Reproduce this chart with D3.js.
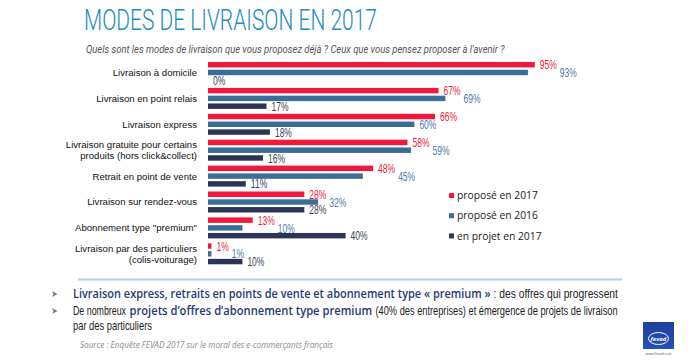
<!DOCTYPE html>
<html><head><meta charset="utf-8">
<script src="https://cdn.jsdelivr.net/npm/d3@7"></script>
<style>
html,body{margin:0;padding:0;background:#fff;}
svg{display:block;}
</style></head>
<body>
<svg id="c" width="696" height="363"></svg>
<script>
const categories = [
  ["Livraison à domicile"],
  ["Livraison en point relais"],
  ["Livraison express"],
  ["Livraison gratuite pour certains", "produits (hors click&collect)"],
  ["Retrait en point de vente"],
  ["Livraison sur rendez-vous"],
  ["Abonnement type \"premium\""],
  ["Livraison par des particuliers", "(colis-voiturage)"]
];
const seriesNames = ["proposé en 2017", "proposé en 2016", "en projet en 2017"];
const propose2017 = [95, 67, 66, 58, 48, 28, 13, 1];
const propose2016 = [93, 69, 60, 59, 45, 32, 10, 1];
const projet2017  = [0, 17, 18, 16, 11, 28, 40, 10];
const seriesValues = [propose2017, propose2016, projet2017];
const barColors = ["#F0193B", "#3B6D96", "#2B3456"];
const labelColors = ["#F0193B", "#4A7BA6", "#3A3F58"];

const svg = d3.select("#c");
const catIds = categories.map((d, i) => i);

const x = d3.scaleLinear().domain([0, 100]).range([208, 552]);
const y = d3.scaleBand().domain(catIds).range([62, 264.3]).paddingInner(0.19).paddingOuter(0);
const ys = d3.scaleBand().domain([0, 1, 2]).range([0, y.bandwidth()]).paddingInner(0.3);

function fitText(sel, px, py, w) {
  const nat = sel.node().getComputedTextLength();
  const sx = w / nat;
  sel.attr("x", 0).attr("y", 0).attr("transform", `translate(${px},${py}) scale(${sx},1)`);
  return sel;
}

// Title
fitText(svg.append("text")
  .attr("font-family", "Roboto, sans-serif").attr("font-weight", 300)
  .attr("font-size", 30).attr("fill", "#1E8CC2")
  .text("MODES DE LIVRAISON EN 2017"), 84, 29.5, 293);

fitText(svg.append("text")
  .attr("font-family", "Roboto, sans-serif").attr("font-style", "italic")
  .attr("font-size", 11.5).attr("fill", "#555")
  .text("Quels sont les modes de livraison que vous proposez déjà ? Ceux que vous pensez proposer à l'avenir ?"), 86, 53, 419);

// Category labels
const catG = svg.append("g");
categories.forEach((lines, i) => {
  const cy = y(i) + y.bandwidth() / 2;
  const t = catG.append("text").attr("text-anchor", "end")
    .attr("font-family", "'Liberation Sans', Arial, sans-serif")
    .attr("font-size", 9.6).attr("fill", "#111");
  const lh = 10.7;
  lines.forEach((ln, j) => {
    t.append("tspan").attr("x", 197)
      .attr("y", cy + (j - (lines.length - 1) / 2) * lh + 3.4)
      .text(ln);
  });
});

// Bars
seriesValues.forEach((vals, s) => {
  svg.append("g").selectAll("rect").data(vals).join("rect")
    .attr("x", x(0))
    .attr("y", (d, i) => y(i) + ys(s))
    .attr("width", d => x(d) - x(0))
    .attr("height", ys.bandwidth())
    .attr("fill", barColors[s]);
});

// Value labels (condensed; nudged right when they would collide with the label above)
const sq = 0.68;
const labG = svg.append("g");
catIds.forEach(i => {
  let prev = null;
  seriesValues.forEach((vals, s) => {
    const v = vals[i];
    const t = labG.append("text")
      .attr("font-family", "'Liberation Sans', Arial, sans-serif")
      .attr("font-size", 12.5).attr("fill", labelColors[s])
      .text(v + "%");
    const w = t.node().getComputedTextLength() * sq;
    let lx = x(v) + 5;
    if (prev && lx < prev.x + prev.w + 2 && lx + w > prev.x - 2) lx = prev.x + prev.w + 3;
    const ly = y(i) + ys(s) + ys.bandwidth() / 2 + 4.6;
    t.attr("transform", `translate(${lx},${ly}) scale(${sq},1)`);
    prev = {x: lx, w: w};
  });
});

// Legend
const lg = svg.append("g");
seriesNames.forEach((n, s) => {
  const cy = 195.5 + s * 20.2;
  lg.append("rect").attr("x", 449).attr("y", cy - 2.5).attr("width", 5).attr("height", 5).attr("fill", barColors[s]);
  lg.append("text").attr("x", 457).attr("y", cy + 3.6)
    .attr("font-family", "'Open Sans', sans-serif").attr("font-size", 10.3).attr("fill", "#1a1a1a")
    .text(n);
});

// Separator
svg.append("line").attr("x1", 78).attr("x2", 622).attr("y1", 279.5).attr("y2", 279.5)
  .attr("stroke", "#B8CCE4").attr("stroke-width", 2);

// Bullets
[298, 315].forEach(by => {
  svg.append("path")
    .attr("d", `M52,${by-7} L57.5,${by-4} L52,${by-1} L53.5,${by-4} Z`)
    .attr("fill", "#777");
});
function txt(xp, yp, w, s, kind) {
  const t = svg.append("text").text(s);
  if (kind === "blue") {
    t.attr("font-family", "'Open Sans', sans-serif").attr("font-weight", 600)
     .attr("font-size", 12).attr("fill", "#1F3B73");
  } else {
    t.attr("font-family", "'Liberation Sans', Arial, sans-serif").attr("font-size", 13).attr("fill", "#222");
  }
  fitText(t, xp, yp, w);
}
txt(73, 298, 418, "Livraison express, retraits en points de vente et abonnement type « premium »", "blue");
txt(493.5, 298, 124.5, ": des offres qui progressent", "cond");
txt(73, 315, 53, "De nombreux", "cond");
txt(129.5, 315, 243, "projets d’offres d’abonnement type premium", "blue");
txt(375.5, 315, 242.5, "(40% des entreprises) et émergence de projets de livraison", "cond");
txt(73, 330, 79, "par des particuliers", "cond");

fitText(svg.append("text")
  .attr("font-family", "'Open Sans', sans-serif").attr("font-style", "italic")
  .attr("font-size", 9).attr("fill", "#8A8A8A")
  .text("Source : Enquête FEVAD 2017 sur le moral des e-commerçants français"), 80, 348, 253);

// Logo
const defs = svg.append("defs");
const grad = defs.append("linearGradient").attr("id", "lg").attr("x1", 0).attr("y1", 0).attr("x2", 0).attr("y2", 1);
grad.append("stop").attr("offset", "0%").attr("stop-color", "#1E3F9C");
grad.append("stop").attr("offset", "100%").attr("stop-color", "#2452B5");
svg.append("rect").attr("x", 643).attr("y", 322).attr("width", 31).attr("height", 27).attr("fill", "url(#lg)");
svg.append("ellipse").attr("cx", 658.5).attr("cy", 338.5).attr("rx", 10).attr("ry", 6)
  .attr("fill", "none").attr("stroke", "#fff").attr("stroke-width", 1);
svg.append("text").attr("x", 658.5).attr("y", 340.5).attr("text-anchor", "middle")
  .attr("font-family", "'Open Sans', sans-serif").attr("font-style", "italic").attr("font-weight", 700)
  .attr("font-size", 6).attr("fill", "#fff").text("fevad");
svg.append("text").attr("x", 658.5).attr("y", 355).attr("text-anchor", "middle")
  .attr("font-family", "'Open Sans', sans-serif").attr("font-size", 3.5).attr("fill", "#555").text("www.fevad.com");
</script>
</body></html>
